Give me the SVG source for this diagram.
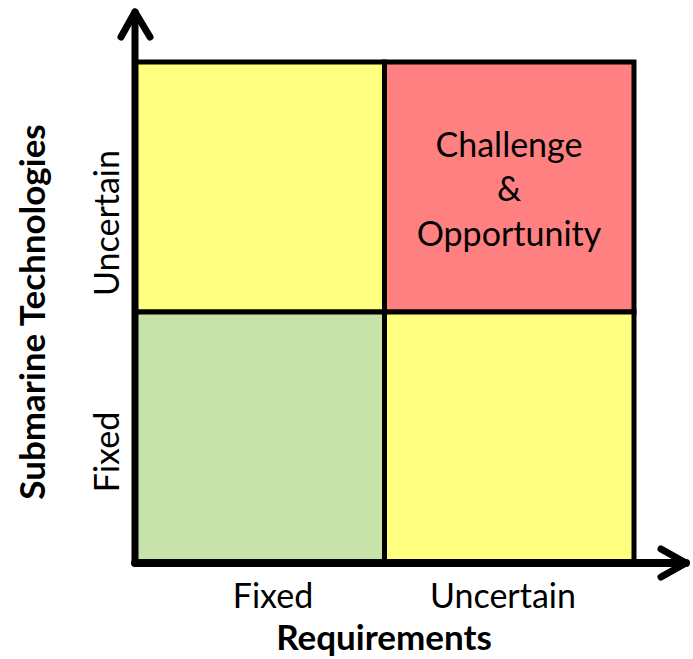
<svg xmlns="http://www.w3.org/2000/svg" width="693" height="659" viewBox="0 0 693 659">
<style>
.cell{stroke:#000;stroke-width:5}
.ax{stroke:#000;stroke-width:7;fill:none;stroke-linecap:round;stroke-linejoin:round}
.t{font-family:Lato,"Liberation Sans",sans-serif;font-size:34px;fill:#000;text-anchor:middle}
.b{font-weight:bold;font-size:35px}
</style>
<rect width="693" height="659" fill="#fff"/>
<g id="q-tl"><rect class="cell" x="135" y="62" width="249.5" height="250" fill="#FFFF80"/></g>
<g id="q-tr"><rect class="cell" x="384.5" y="62" width="249.5" height="250" fill="#FF8080"/>
<text class="t" x="509" y="157">Challenge</text>
<text class="t" x="509" y="201">&amp;</text>
<text class="t" x="509" y="246">Opportunity</text></g>
<g id="q-bl"><rect class="cell" x="135" y="312" width="249.5" height="251" fill="#C7E3AA"/></g>
<g id="q-br"><rect class="cell" x="384.5" y="312" width="249.5" height="251" fill="#FFFF80"/></g>
<g id="connectors">
<line class="ax" x1="135" y1="563" x2="135" y2="12"/>
<polyline class="ax" points="121,37 135,12 150,37"/>
<line class="ax" x1="135" y1="563" x2="686" y2="563" style="stroke-width:8"/>
<polyline class="ax" points="661,549 686,563 661,577"/>
</g>
<g id="labels">
<text class="t" x="273" y="608">Fixed</text>
<text class="t" x="503" y="608">Uncertain</text>
<text class="t b" x="384" y="650">Requirements</text>
<text class="t" transform="translate(119,223) rotate(-90)">Uncertain</text>
<text class="t" transform="translate(119,452) rotate(-90)">Fixed</text>
<text class="t b" transform="translate(45,312) rotate(-90)">Submarine Technologies</text>
</g>
</svg>
